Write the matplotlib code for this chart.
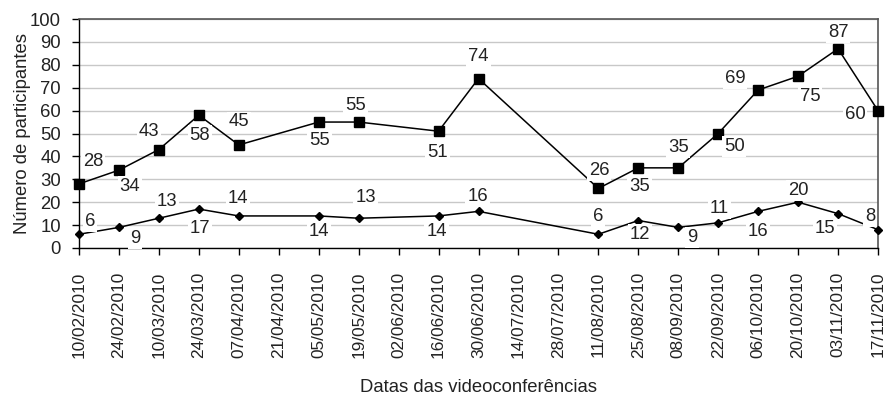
import datetime as dt
import matplotlib
matplotlib.use("Agg")
import matplotlib.pyplot as plt

plt.rcParams["font.family"] = ["Liberation Sans", "DejaVu Sans"]

# Conference dates and attendance
session_dates = [
    "10/02/2010", "24/02/2010", "10/03/2010", "24/03/2010", "07/04/2010",
    "05/05/2010", "19/05/2010", "16/06/2010", "30/06/2010", "11/08/2010",
    "25/08/2010", "08/09/2010", "22/09/2010", "06/10/2010", "20/10/2010",
    "03/11/2010", "17/11/2010",
]
total_participants = [28, 34, 43, 58, 45, 55, 55, 51, 74, 26, 35, 35, 50, 69, 75, 87, 60]
other_participants = [6, 9, 13, 17, 14, 14, 13, 14, 16, 6, 12, 9, 11, 16, 20, 15, 8]

tick_labels = [
    "10/02/2010", "24/02/2010", "10/03/2010", "24/03/2010", "07/04/2010",
    "21/04/2010", "05/05/2010", "19/05/2010", "02/06/2010", "16/06/2010",
    "30/06/2010", "14/07/2010", "28/07/2010", "11/08/2010", "25/08/2010",
    "08/09/2010", "22/09/2010", "06/10/2010", "20/10/2010", "03/11/2010",
    "17/11/2010",
]

# Label offsets in pixels (dx, dy) relative to each point
total_offsets = [(14, 22), (11, -16), (-10, 18), (1, -20), (0, 23), (1, -18),
                 (-3, 17), (-1, -21), (0, 22), (1, 18), (1, -19), (0, 20),
                 (16, -13), (-23, 11), (12, -20), (0, 16), (-23, -4)]
other_offsets = [(11, 13), (16, -11), (8, 17), (1, -19), (-1, 17), (0, -16),
                 (7, 21), (-2, -16), (-1, 15), (0, 18), (2, -14), (14, -10),
                 (1, 14), (0, -20), (0, 12), (-13, -15), (-8, 13)]

TEXT = "#222222"
FS = 13.3

fig = plt.figure(figsize=(8.87, 3.95), dpi=100)
ax = fig.add_axes([79 / 887, 1 - 248 / 395, (878 - 79) / 887, (248 - 19) / 395])

x = [dt.datetime.strptime(d, "%d/%m/%Y") for d in session_dates]
xticks = [dt.datetime.strptime(d, "%d/%m/%Y") for d in tick_labels]

ax.plot(x, total_participants, color="black", lw=1.1, marker="s", ms=6.8,
        clip_on=False, zorder=4)
ax.plot(x, other_participants, color="black", lw=1.1, marker="D", ms=4.5,
        clip_on=False, zorder=4)

for series, offsets in ((total_participants, total_offsets),
                        (other_participants, other_offsets)):
    for xi, yi, (dx, dy) in zip(x, series, offsets):
        ax.annotate(str(yi), (xi, yi), xytext=(dx, dy), textcoords="offset pixels",
                    ha="center", va="center", fontsize=FS, color=TEXT,
                    bbox=dict(boxstyle="square,pad=0.1", fc="white", ec="none"),
                    zorder=5)

ax.set_xlim(xticks[0], xticks[-1])
ax.set_ylim(0, 100)
ax.set_yticks(range(0, 101, 10))
ax.set_xticks(xticks)
ax.set_xticklabels(tick_labels, rotation=90, fontsize=12.4, color=TEXT)
ax.tick_params(axis="y", labelsize=FS, labelcolor=TEXT, length=5, width=1, pad=8)
ax.tick_params(axis="x", length=5, width=1, pad=12)

ax.grid(axis="y", color="#c8c8c8", lw=1)
ax.set_axisbelow(True)
for side in ("top", "right"):
    ax.spines[side].set_color("#555555")
    ax.spines[side].set_linewidth(1.2)
for side in ("left", "bottom"):
    ax.spines[side].set_color("black")
    ax.spines[side].set_linewidth(1)

ax.set_ylabel("Número de participantes", fontsize=FS, color=TEXT)
ax.yaxis.set_label_coords(-48 / 799, 0.5)
ax.set_xlabel("Datas das videoconferências", fontsize=FS, color=TEXT)
ax.xaxis.set_label_coords(0.5, -(379 - 248) / 229)

fig.savefig("out.png", dpi=100)
